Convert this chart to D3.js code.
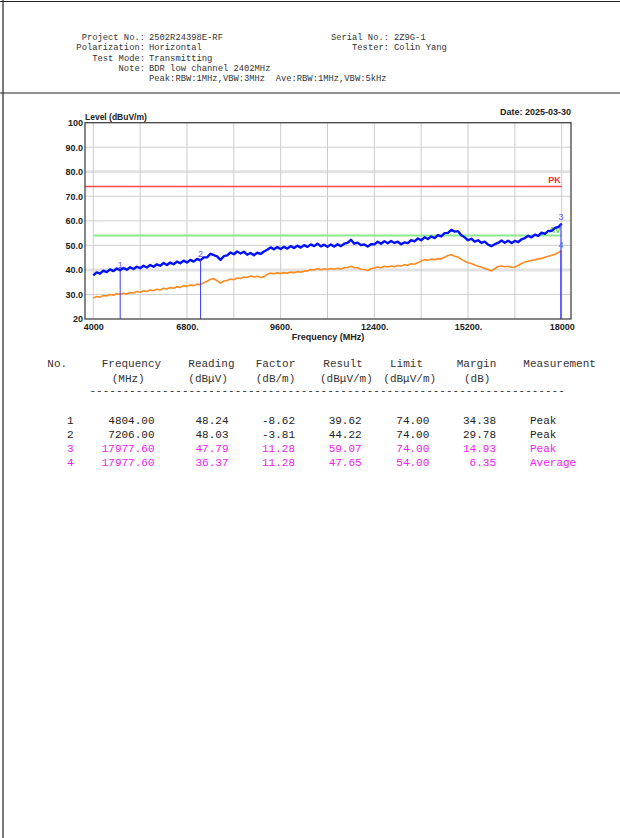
<!DOCTYPE html>
<html>
<head>
<meta charset="utf-8">
<script src="https://cdn.jsdelivr.net/npm/d3@7"></script>
<style>
  body { margin: 0; background: #fff; }
  svg { display: block; }
  text { white-space: pre; }
</style>
</head>
<body>
<svg id="chart"></svg>
<script>
// page size
const width = 620;
const height = 838;

// header info
const headerLeftLabels = ["Project No.:", "Polarization:", "Test Mode:", "Note:", ""];
const headerLeftValues = ["2502R24398E-RF", "Horizontal", "Transmitting", "BDR low channel 2402MHz",
  "Peak:RBW:1MHz,VBW:3MHz  Ave:RBW:1MHz,VBW:5kHz"];
const headerRightLabels = ["Serial No.:", "Tester:"];
const headerRightValues = ["2Z9G-1", "Colin Yang"];
const dateText = "Date: 2025-03-30";

// axes
const yTicks = [100, 90, 80, 70, 60, 50, 40, 30, 20];
const yTickLabels = ["100", "90.0", "80.0", "70.0", "60.0", "50.0", "40.0", "30.0", "20"];
const xTicks = [4000, 6800, 9600, 12400, 15200, 18000];
const xTickLabels = ["4000", "6800.", "9600.", "12400.", "15200.", "18000"];

// limits
const peakLimit = 74;
const avgLimit = 54;

// sweep values (dBuV/m), 4000..18000 MHz every 100 MHz
const peakTrace = [
  37.8, 39.0, 38.5, 39.7, 39.1, 40.2, 39.5, 40.6, 39.9, 40.8,
  40.1, 41.1, 40.4, 41.3, 40.7, 41.7, 41.0, 42.0, 41.3, 42.3,
  41.7, 42.8, 42.0, 43.0, 42.3, 43.4, 42.7, 43.8, 43.0, 44.1,
  43.4, 44.5, 43.9, 45.1, 45.1, 46.6, 46.0, 45.5, 44.1, 45.6,
  45.9, 47.1, 46.4, 47.5, 46.7, 47.4, 46.2, 46.9, 46.0, 47.0,
  46.5, 47.5, 48.2, 49.2, 48.4, 49.3, 48.5, 49.4, 48.7, 49.7,
  48.9, 49.9, 49.1, 50.1, 49.4, 50.4, 49.7, 50.7, 49.6, 50.3,
  49.4, 50.4, 49.5, 50.5, 49.7, 50.7, 51.0, 52.3, 50.7, 51.1,
  50.1, 50.4, 49.5, 50.5, 50.4, 51.5, 50.7, 51.7, 50.9, 51.8,
  51.0, 51.5, 50.5, 51.2, 50.9, 52.1, 51.6, 52.8, 52.1, 53.3,
  52.6, 53.6, 53.0, 54.2, 53.7, 55.0, 55.1, 56.3, 55.6, 55.8,
  54.1, 53.3, 52.1, 52.7, 51.5, 52.1, 51.0, 51.5, 50.3, 49.7,
  50.5, 51.0, 52.0, 51.1, 51.9, 51.0, 51.8, 51.3, 52.5, 53.0,
  53.9, 53.3, 54.4, 53.9, 55.2, 54.7, 55.9, 55.9, 57.1, 57.5,
  58.9
];
const avgTrace = [
  28.6, 29.2, 28.9, 29.6, 29.4, 30.0, 29.7, 30.3, 30.0, 30.5,
  30.2, 30.8, 30.6, 31.2, 30.9, 31.5, 31.2, 31.8, 31.5, 32.1,
  31.8, 32.5, 32.2, 32.8, 32.5, 33.1, 32.9, 33.6, 33.3, 33.9,
  33.6, 34.2, 34.0, 34.8, 35.4, 36.2, 36.4, 35.6, 34.6, 35.5,
  35.7, 36.3, 36.0, 36.7, 36.5, 37.1, 36.9, 37.5, 37.1, 37.4,
  36.9, 37.2, 38.2, 38.7, 38.4, 38.8, 38.5, 38.9, 38.7, 39.1,
  38.9, 39.3, 39.1, 39.5, 39.6, 40.2, 40.0, 40.5, 40.1, 40.5,
  40.2, 40.6, 40.3, 40.7, 40.4, 40.9, 41.0, 41.5, 40.9, 40.9,
  40.3, 40.2, 39.8, 40.5, 40.8, 41.2, 40.9, 41.5, 41.2, 41.6,
  41.3, 41.8, 41.6, 42.1, 41.9, 42.5, 42.3, 42.9, 43.6, 44.2,
  43.9, 44.4, 44.2, 44.6, 44.5, 45.2, 45.9, 46.2, 45.6, 45.3,
  44.3, 43.6, 42.9, 42.6, 42.0, 41.5, 41.2, 40.6, 40.2, 39.6,
  40.5, 41.4, 41.6, 41.3, 41.5, 41.1, 41.2, 41.8, 42.6, 43.2,
  43.5, 43.9, 44.1, 44.5, 44.7, 45.2, 45.6, 46.0, 46.4, 47.1,
  48.0
];
const sweepFreq = d3.range(4000, 18001, 100);

// marker table
const markerNo = [1, 2, 3, 4];
const markerFreq = [4804.00, 7206.00, 17977.60, 17977.60];
const markerReading = [48.24, 48.03, 47.79, 36.37];
const markerFactor = [-8.62, -3.81, 11.28, 11.28];
const markerResult = [39.62, 44.22, 59.07, 47.65];
const markerLimit = [74.00, 74.00, 74.00, 54.00];
const markerMargin = [34.38, 29.78, 14.93, 6.35];
const markerType = ["Peak", "Peak", "Peak", "Average"];

const mono = "'Liberation Mono', 'DejaVu Sans Mono', monospace";
const sans = "'Liberation Sans', Arial, sans-serif";

const svg = d3.select("#chart")
  .attr("width", width)
  .attr("height", height)
  .style("background", "#fff");

// page borders
svg.append("line").attr("x1", 0).attr("x2", width).attr("y1", 1.5).attr("y2", 1.5)
  .attr("stroke", "#222").attr("stroke-width", 1.2);
svg.append("line").attr("x1", 3).attr("x2", 3).attr("y1", 0).attr("y2", height)
  .attr("stroke", "#222").attr("stroke-width", 1.2);
svg.append("line").attr("x1", 0).attr("x2", width).attr("y1", 93).attr("y2", 93)
  .attr("stroke", "#222").attr("stroke-width", 1);

// header text
const header = svg.append("g")
  .style("font-family", mono)
  .style("font-size", "8.8px")
  .attr("fill", "#333");

headerLeftLabels.forEach((t, i) => {
  const yy = 40 + i * 10.3;
  header.append("text").attr("x", 145).attr("y", yy).attr("text-anchor", "end").text(t);
  header.append("text").attr("x", 149).attr("y", yy).text(headerLeftValues[i]);
});
headerRightLabels.forEach((t, i) => {
  const yy = 40 + i * 10.3;
  header.append("text").attr("x", 389).attr("y", yy).attr("text-anchor", "end").text(t);
  header.append("text").attr("x", 394).attr("y", yy).text(headerRightValues[i]);
});

// plot frame and scales
const frame = { left: 85, right: 571, top: 122.7, bottom: 319 };

const x = d3.scaleLinear()
  .domain([4000, 18000])
  .range([93.3, 561.7]);

const y = d3.scaleLinear()
  .domain([20, 100])
  .range([frame.bottom, frame.top]);

svg.append("text")
  .attr("x", frame.right)
  .attr("y", 115)
  .attr("text-anchor", "end")
  .style("font-family", sans)
  .style("font-size", "9px")
  .style("font-weight", "bold")
  .attr("fill", "#222")
  .text(dateText);

svg.append("text")
  .attr("x", frame.left)
  .attr("y", 120)
  .style("font-family", sans)
  .style("font-size", "8.5px")
  .style("font-weight", "bold")
  .attr("fill", "#222")
  .text("Level (dBuV/m)");

// grid
const grid = svg.append("g");
grid.selectAll(".hgrid")
  .data(yTicks.filter(d => d > 20 && d < 100))
  .join("line")
  .attr("x1", frame.left)
  .attr("x2", frame.right)
  .attr("y1", d => y(d))
  .attr("y2", d => y(d))
  .attr("stroke", d => (d === 40 || d === 80) ? "#e2e2e2" : "#cfcfcf")
  .attr("stroke-width", d => (d === 40 || d === 80) ? 3 : 1);

grid.selectAll(".vgrid")
  .data(d3.range(4000, 18001, 1400))
  .join("line")
  .attr("x1", d => x(d))
  .attr("x2", d => x(d))
  .attr("y1", frame.top)
  .attr("y2", frame.bottom)
  .attr("stroke", "#cccccc")
  .attr("stroke-width", 1);

// limit lines
svg.append("line")
  .attr("x1", frame.left).attr("x2", x(18000))
  .attr("y1", y(peakLimit)).attr("y2", y(peakLimit))
  .attr("stroke", "#ff4a4a").attr("stroke-width", 1.3);

svg.append("line")
  .attr("x1", x(4000)).attr("x2", x(18000))
  .attr("y1", y(avgLimit)).attr("y2", y(avgLimit))
  .attr("stroke", "#8be88b").attr("stroke-width", 2);

svg.append("text")
  .attr("x", x(18000) - 1).attr("y", y(peakLimit) - 3)
  .attr("text-anchor", "end")
  .style("font-family", sans).style("font-size", "9px").style("font-weight", "bold")
  .attr("fill", "#ff3030")
  .text("PK");

svg.append("text")
  .attr("x", x(18000) - 1).attr("y", y(avgLimit) - 3)
  .attr("text-anchor", "end")
  .style("font-family", sans).style("font-size", "9px").style("font-weight", "bold")
  .attr("fill", "#5ad85a")
  .text("AV");

// traces
const line = d3.line()
  .x((d, i) => x(sweepFreq[i]))
  .y(d => y(d));

svg.append("path")
  .datum(avgTrace)
  .attr("fill", "none")
  .attr("stroke", "#ff8a1e")
  .attr("stroke-width", 1.6)
  .attr("stroke-linejoin", "round")
  .attr("d", line);

svg.append("path")
  .datum(peakTrace)
  .attr("fill", "none")
  .attr("stroke", "#0010ff")
  .attr("stroke-width", 2.4)
  .attr("stroke-linejoin", "round")
  .attr("d", line);

// markers
const markers = markerNo.map((n, i) => ({ n: n, f: markerFreq[i], v: markerResult[i] }));

svg.append("g")
  .selectAll("line")
  .data(markers)
  .join("line")
  .attr("x1", d => x(d.f))
  .attr("x2", d => x(d.f))
  .attr("y1", d => y(d.v))
  .attr("y2", frame.bottom)
  .attr("stroke", "#3c3cff")
  .attr("stroke-width", 1);

svg.append("g")
  .selectAll("text")
  .data(markers)
  .join("text")
  .attr("x", d => x(d.f))
  .attr("y", d => y(d.v) - 3)
  .attr("text-anchor", "middle")
  .style("font-family", sans)
  .style("font-size", "9px")
  .attr("fill", "#5a5aff")
  .text(d => d.n);

// frame
svg.append("rect")
  .attr("x", frame.left)
  .attr("y", frame.top)
  .attr("width", frame.right - frame.left)
  .attr("height", frame.bottom - frame.top)
  .attr("fill", "none")
  .attr("stroke", "#444")
  .attr("stroke-width", 1.3);

// axes
const yAxis = svg.append("g")
  .attr("transform", `translate(${frame.left},0)`)
  .call(d3.axisLeft(y).tickValues(yTicks).tickFormat((d, i) => yTickLabels[i]).tickSize(0).tickPadding(2));
yAxis.select(".domain").remove();
yAxis.selectAll("text")
  .style("font-family", sans).style("font-size", "9px").style("font-weight", "bold").attr("fill", "#222");

const xAxis = svg.append("g")
  .attr("transform", `translate(0,${frame.bottom})`)
  .call(d3.axisBottom(x).tickValues(xTicks).tickFormat((d, i) => xTickLabels[i]).tickSize(0).tickPadding(5));
xAxis.select(".domain").remove();
xAxis.selectAll("text")
  .style("font-family", sans).style("font-size", "9px").style("font-weight", "bold").attr("fill", "#222");

svg.append("text")
  .attr("x", 328)
  .attr("y", 340)
  .attr("text-anchor", "middle")
  .style("font-family", sans).style("font-size", "9px").style("font-weight", "bold")
  .attr("fill", "#222")
  .text("Frequency (MHz)");

// table
const table = svg.append("g")
  .style("font-family", mono)
  .style("font-size", "11px");

const head1 = [["No.", 47.3], ["Frequency", 101.7], ["Reading", 188.3], ["Factor", 255.7],
  ["Result", 323.3], ["Limit", 390], ["Margin", 456.7], ["Measurement", 523.3]];
const head2 = [["(MHz)", 111.7], ["(dBμV)", 188.3], ["(dB/m)", 255.7], ["(dBμV/m)", 320],
  ["(dBμV/m)", 383.3], ["(dB)", 464]];

head1.forEach(h => table.append("text").attr("x", h[1]).attr("y", 367).attr("fill", "#333").text(h[0]));
head2.forEach(h => table.append("text").attr("x", h[1]).attr("y", 382).attr("fill", "#333").text(h[0]));
table.append("text").attr("x", 89.5).attr("y", 394).attr("fill", "#333").text("-".repeat(72));

const rowColor = i => i < 2 ? "#222" : "#f020f0";
markerNo.forEach((n, i) => {
  const yy = 424 + i * 14;
  const cells = [
    [String(n), 73.5],
    [markerFreq[i].toFixed(2), 154.5],
    [markerReading[i].toFixed(2), 228.5],
    [markerFactor[i].toFixed(2), 295],
    [markerResult[i].toFixed(2), 361.7],
    [markerLimit[i].toFixed(2), 429.3],
    [markerMargin[i].toFixed(2), 496]
  ];
  cells.forEach(c => table.append("text")
    .attr("x", c[1]).attr("y", yy).attr("text-anchor", "end")
    .attr("fill", rowColor(i)).text(c[0]));
  table.append("text").attr("x", 530).attr("y", yy).attr("fill", rowColor(i)).text(markerType[i]);
});
</script>
</body>
</html>
